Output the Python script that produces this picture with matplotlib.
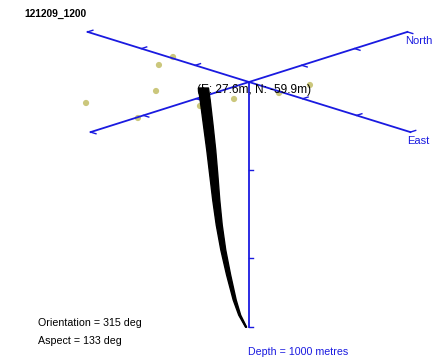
import numpy as np
import matplotlib.pyplot as plt

plt.rcParams['font.family'] = ['Liberation Sans', 'DejaVu Sans']

# well path (metres): easting, northing, depth and half-spread of the realisations
well_e = [27.6, 29.2, 32.1, 34.9, 37.3, 39.6, 42.4, 46.2, 51.2, 56.9, 61.6, 67.6]
well_n = [-59.9, -58.3, -55.4, -52.6, -50.2, -47.9, -45.1, -41.3, -36.3, -30.6, -25.9, -19.9]
well_d = [0, 49, 151, 253, 355, 457, 559, 661, 763, 865, 927, 976]
well_spread = [4.7, 4.7, 4.5, 4.2, 3.8, 3.3, 2.8, 2.3, 1.9, 1.4, 0.9, 0.5]

# surface stations (metres)
stn_e = [-92.9, -82.4, -8.0, -38.1, 55.1, 77.7, 88.9, 113.3, 118.6]
stn_n = [5.3, -32.1, -113.4, -215.3, -212.0, -117.5, -64.4, -4.1, 49.1]

title = "121209_1200"
orientation = 315
aspect = 133
max_depth = 1000
grid_centre = (52.5, 1.0)
grid_half = 300
grid_step = 100
depth_ticks = [360, 720, 1000]

# projection of (E, N, depth) onto the page
cx, cy = 249, 82
ex, ey = 0.538, 0.167
nx, ny = 0.528, -0.167
dz = 0.245


def project(e, n, d):
    e = np.asarray(e, float) - grid_centre[0]
    n = np.asarray(n, float) - grid_centre[1]
    d = np.asarray(d, float)
    return cx + e * ex + n * nx, cy + e * ey + n * ny + d * dz


blue = '#1a1ae0'
fig = plt.figure(figsize=(4.37, 3.60), dpi=100)
ax = fig.add_axes([0, 0, 1, 1])
ax.set_xlim(0, 437)
ax.set_ylim(360, 0)
ax.axis('off')

E0, N0 = grid_centre
# horizontal axes
for de, dn in [(1, 0), (0, 1)]:
    x, y = project([E0 - de * grid_half, E0 + de * grid_half],
                   [N0 - dn * grid_half, N0 + dn * grid_half], [0, 0])
    ax.plot(x, y, color=blue, lw=1.3, zorder=2)
    for k in np.arange(-grid_half, grid_half + 1, grid_step):
        if k == 0:
            continue
        e1, n1 = E0 + de * k, N0 + dn * k
        tx, ty = project([e1, e1 + dn * 10], [n1, n1 + de * 10], [0, 0])
        ax.plot(tx, ty, color=blue, lw=1.0, zorder=2)

# depth axis
x, y = project([E0, E0], [N0, N0], [0, max_depth])
ax.plot(x, y, color=blue, lw=1.3, zorder=2)
for d in depth_ticks:
    tx, ty = project([E0, E0 + 4], [N0, N0 + 4], [d, d])
    ax.plot(tx, ty, color=blue, lw=1.0, zorder=2)

# surface stations
sx, sy = project(stn_e, stn_n, np.zeros(len(stn_e)))
ax.scatter(sx, sy, s=20, color='#cbc77c', edgecolors='none', zorder=1)

# well path with its spread
sp = np.array(well_spread)
lx, ly = project(np.array(well_e) - sp, np.array(well_n) - sp, well_d)
rx, ry = project(np.array(well_e) + sp, np.array(well_n) + sp, well_d)
ax.fill(np.r_[lx, rx[::-1]], np.r_[ly, ry[::-1]], color='black', lw=1.0,
        joinstyle='round', zorder=3)
wx, wy = project(well_e, well_n, well_d)
ax.plot(wx, wy, color='black', lw=1.2, solid_capstyle='round', zorder=3)

ax.text(wx[0] - 6, wy[0] + 2, "(E: %.1fm, N: %.1fm)" % (well_e[0], well_n[0]),
        fontsize=8.6, color='black', va='center', ha='left', zorder=4)

# axis labels
nlx, nly = project(E0, N0 + grid_half, 0)
ax.text(nlx - 2, nly + 9, "North", fontsize=8, color=blue, va='center', ha='left')
elx, ely = project(E0 + grid_half, N0, 0)
ax.text(elx - 3, ely + 9, "East", fontsize=8, color=blue, va='center', ha='left')
dlx, dly = project(E0, N0, max_depth)
ax.text(dlx - 1, dly + 25, "Depth = %d metres" % max_depth, fontsize=7.7, color=blue,
        va='center', ha='left')

ax.text(24, 14, title, fontsize=7.4, fontweight='bold', va='center', ha='left')
ax.text(38, 323, "Orientation = %d deg" % orientation, fontsize=7.7, va='center', ha='left')
ax.text(38, 341, "Aspect = %d deg" % aspect, fontsize=7.7, va='center', ha='left')

fig.savefig('out.png', dpi=100)
